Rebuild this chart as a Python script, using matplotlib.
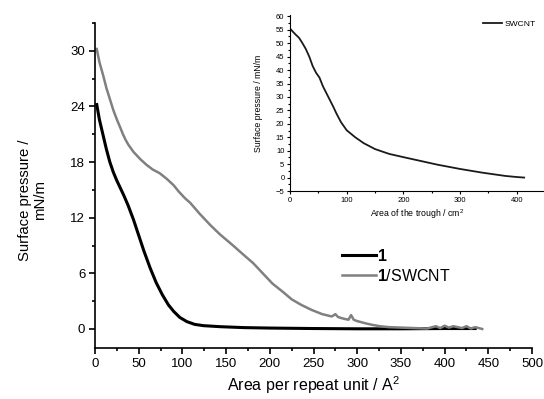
import matplotlib
matplotlib.use("Agg")
import matplotlib.pyplot as plt
from matplotlib.ticker import MultipleLocator

plt.rcParams['font.family'] = ['Liberation Sans', 'DejaVu Sans']
plt.rcParams['mathtext.fontset'] = 'custom'
plt.rcParams['mathtext.rm'] = 'Liberation Sans'
plt.rcParams['mathtext.bf'] = 'Liberation Sans:bold'

# compound 1 isotherm
x_1 = [2, 5, 9.5, 13, 17, 21, 25, 29, 33, 38, 44, 50, 56, 63, 70, 77, 84, 90,
       97, 105, 114, 124, 143, 170, 200, 250, 300, 350, 400, 435]
y_1 = [24.2, 22.6, 20.8, 19.4, 18.0, 16.9, 16.0, 15.2, 14.4, 13.3, 11.8,
       10.1, 8.4, 6.6, 5.0, 3.7, 2.6, 1.9, 1.25, 0.8, 0.5, 0.36, 0.25, 0.15,
       0.1, 0.05, 0.02, 0.02, 0.05, 0.05]

# 1/SWCNT isotherm
x_mix = [2, 5, 9.5, 13, 17, 21, 25, 29, 32, 35, 38, 44, 52, 59, 66, 74, 82,
         90, 96, 103, 109, 120, 132, 143, 158, 170, 181, 192, 203, 215, 225,
         236, 248, 260, 271, 275, 278, 281, 285, 290, 293, 296, 300, 310, 317,
         326, 336, 350, 365, 380, 390, 395, 400, 405, 410, 420, 425, 430, 435,
         443]
y_mix = [30.2, 28.8, 27.3, 26.0, 24.8, 23.6, 22.6, 21.7, 21.0, 20.4, 19.9,
         19.1, 18.3, 17.7, 17.2, 16.8, 16.2, 15.5, 14.8, 14.1, 13.6, 12.4,
         11.2, 10.2, 9.0, 8.0, 7.1, 6.0, 4.9, 4.0, 3.2, 2.6, 2.05, 1.6, 1.35,
         1.6, 1.3, 1.2, 1.1, 1.0, 1.5, 1.0, 0.85, 0.6, 0.45, 0.3, 0.2, 0.15,
         0.1, 0.05, 0.3, 0.1, 0.35, 0.15, 0.3, 0.1, 0.3, 0.05, 0.2, 0.0]

# inset: SWCNT alone, vs trough area
x_sw = [2, 5, 10, 16, 22, 28, 34, 40, 46, 52, 58, 64, 70, 76, 82, 90, 100,
        115, 130, 150, 175, 200, 230, 260, 300, 340, 380, 400, 413]
y_sw = [55, 54.3, 53.2, 52, 50, 47.8, 45, 41.5, 39, 37.2, 34, 31.5, 29, 26.5,
        23.8, 20.6, 17.6, 15, 12.8, 10.6, 8.8, 7.6, 6.2, 4.8, 3.2, 1.8, 0.6,
        0.2, 0.0]


def style_axes(ax, lw):
    for s in ['top', 'right']:
        ax.spines[s].set_visible(False)
    for s in ['left', 'bottom']:
        ax.spines[s].set_linewidth(lw)
    ax.tick_params(which='both', direction='out', width=lw)


fig = plt.figure(figsize=(5.44, 3.99), dpi=100)

ax = fig.add_axes([95 / 544, 1 - 348 / 399, 437 / 544, 325 / 399])
ax.plot(x_1, y_1, color='black', lw=2.2, label=r'$\mathbf{1}$')
ax.plot(x_mix, y_mix, color='#808080', lw=1.8, label=r'$\mathbf{1}$/SWCNT')
ax.set_xlim(0, 500)
ax.set_ylim(-2.05, 33)
ax.xaxis.set_major_locator(MultipleLocator(50))
ax.xaxis.set_minor_locator(MultipleLocator(25))
ax.yaxis.set_major_locator(MultipleLocator(6))
ax.yaxis.set_minor_locator(MultipleLocator(3))
style_axes(ax, 1.2)
ax.tick_params(which='major', length=4, labelsize=9.5, pad=3)
ax.tick_params(which='minor', length=2.5)
ax.set_xlabel('Area per repeat unit / A$^2$', fontsize=11.5)
ax.xaxis.set_label_coords(0.5, -0.08)
ax.set_ylabel('Surface pressure /\nmN/m', fontsize=10.7, linespacing=1.1)
ax.yaxis.set_label_coords(-0.11, 0.455)
ax.legend(loc='upper left', bbox_to_anchor=(342 / 544, 1 - 248 / 399),
          bbox_transform=fig.transFigure, frameon=False, fontsize=11.5,
          borderpad=0, borderaxespad=0, handlelength=2.1, handletextpad=0.1,
          labelspacing=0.25)

ins = fig.add_axes([290 / 544, 1 - 191 / 399, 254 / 544, 176 / 399])
ins.plot(x_sw, y_sw, color='#1a1a1a', lw=1.3, label='SWCNT')
ins.set_xlim(0, 448)
ins.set_ylim(-5, 60.5)
ins.xaxis.set_major_locator(MultipleLocator(100))
ins.xaxis.set_minor_locator(MultipleLocator(50))
ins.yaxis.set_major_locator(MultipleLocator(5))
ins.yaxis.set_minor_locator(MultipleLocator(2.5))
style_axes(ins, 0.8)
ins.tick_params(which='major', length=2.5, labelsize=5.5, pad=1.5)
ins.tick_params(which='minor', length=1.5)
ins.set_xlabel('Area of the trough / cm$^2$', fontsize=6.3, labelpad=3)
ins.set_ylabel('Surface pressure / mN/m', fontsize=6.3, labelpad=9)
ins.legend(loc='upper left', bbox_to_anchor=(483 / 544, 1 - 20 / 399),
           bbox_transform=fig.transFigure, frameon=False, fontsize=6.1,
           borderpad=0, borderaxespad=0, handlelength=2.3, handletextpad=0.2)

fig.savefig('out.png', dpi=100)
